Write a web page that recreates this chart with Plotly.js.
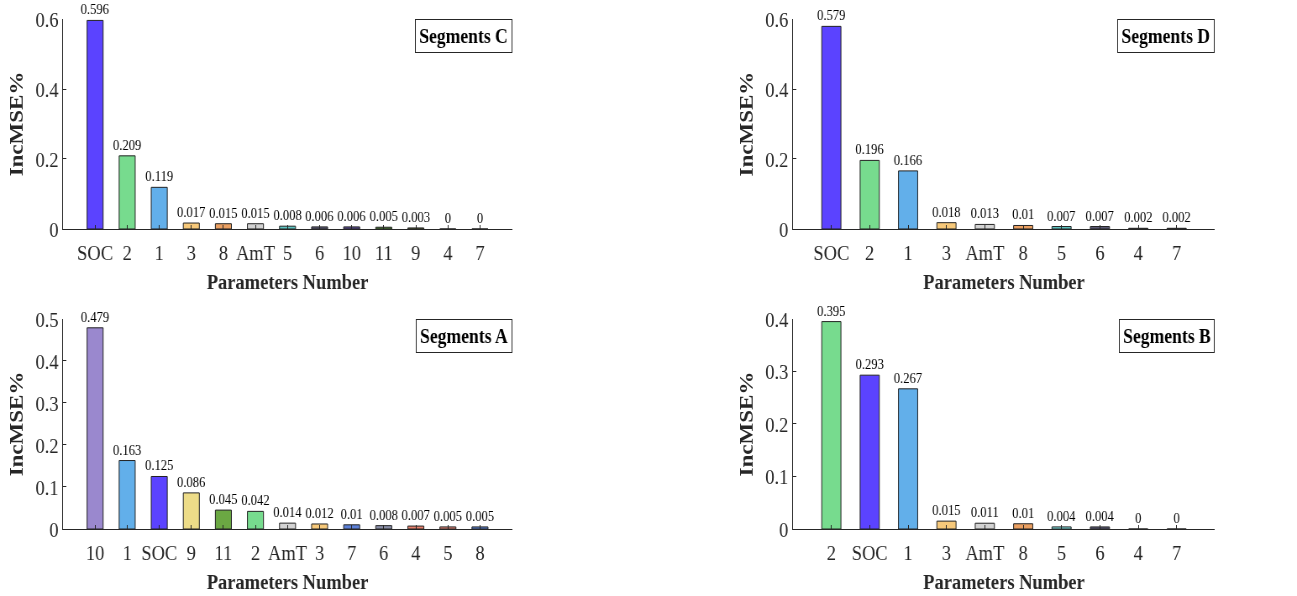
<!DOCTYPE html>
<html><head><meta charset="utf-8">
<script src="https://cdn.plot.ly/plotly-3.0.1.min.js"></script>
<style>
html,body{margin:0;padding:0;overflow:hidden;background:#fff;}
#wrap{width:1297px;height:596px;overflow:hidden;}
#chart{width:1544px;height:596px;transform:scaleX(0.84003);transform-origin:0 0;will-change:transform;-webkit-font-smoothing:antialiased;}
#chart text{-webkit-font-smoothing:antialiased;}
</style></head><body><div id="wrap"><div id="chart"></div></div>
<script>
// Segments C
const catsC = ['SOC','2','1','3','8','AmT','5','6','10','11','9','4','7'];
const valsC = [0.596,0.209,0.119,0.017,0.015,0.015,0.008,0.006,0.006,0.005,0.003,0,0];
const colsC = ['#5B43FF','#77DB8E','#62AFEA','#F7C97A','#EBA062','#D3D3D3','#5CC5C2','#5E5C78','#5C4E96','#4F8A34','#6B7A3A','#444444','#444444'];
// Segments D
const catsD = ['SOC','2','1','3','AmT','8','5','6','4','7'];
const valsD = [0.579,0.196,0.166,0.018,0.013,0.01,0.007,0.007,0.002,0.002];
const colsD = ['#5B43FF','#77DB8E','#62AFEA','#F7C97A','#D3D3D3','#EBA062','#5CC5C2','#5E5C78','#444444','#444444'];
// Segments A
const catsA = ['10','1','SOC','9','11','2','AmT','3','7','6','4','5','8'];
const valsA = [0.479,0.163,0.125,0.086,0.045,0.042,0.014,0.012,0.01,0.008,0.007,0.005,0.005];
const colsA = ['#9A88CE','#62AFEA','#5B43FF','#EDDC88','#6BA843','#77DB8E','#D3D3D3','#F7C97A','#5C80D8','#8A8FA8','#E8806C','#E8887A','#5A80D0'];
// Segments B
const catsB = ['2','SOC','1','3','AmT','8','5','6','4','7'];
const valsB = [0.395,0.293,0.267,0.015,0.011,0.01,0.004,0.004,0,0];
const colsB = ['#77DB8E','#5B43FF','#62AFEA','#F7C97A','#D3D3D3','#EBA062','#7FE0E0','#5E5C78','#444444','#444444'];

const panelNames = ['Segments C','Segments D','Segments A','Segments B'];
const yMax = [0.6, 0.6, 0.5, 0.4];
const yStep = [0.2, 0.2, 0.1, 0.1];

const FONT = 'Liberation Serif, Times New Roman, serif';
const sets = [[catsC,valsC,colsC],[catsD,valsD,colsD],[catsA,valsA,colsA],[catsB,valsB,colsB]];
const axIds = ['', '2', '3', '4'];
const xDom = [[0.0486,0.3948],[0.6114,0.9368],[0.0486,0.3948],[0.6114,0.9368]];
const yDom = [[0.6158,0.9681],[0.6158,0.9681],[0.1124,0.4648],[0.1124,0.4648]];

const traces = [];
const layout = {
  width: 1544, height: 596,
  margin: {l:0, r:0, t:0, b:0},
  paper_bgcolor: '#fff', plot_bgcolor: 'rgba(0,0,0,0)',
  showlegend: false,
  font: {family: FONT, color: '#262626'},
  annotations: []
};

sets.forEach((s, i) => {
  const [cats, vals, cols] = s;
  const id = axIds[i];
  traces.push({
    type: 'bar', x: cats, y: vals,
    xaxis: 'x' + id, yaxis: 'y' + id,
    marker: {color: cols, line: {color: '#222222', width: 1}},
    text: vals.map(v => String(v)),
    textposition: 'outside',
    constraintext: 'none',
    textfont: {family: FONT, size: 15, color: '#000'},
    outsidetextfont: {family: FONT, size: 15, color: '#000'},
    cliponaxis: false,
    width: 0.5,
    hoverinfo: 'x+y'
  });
  layout['xaxis' + id] = {
    domain: xDom[i], anchor: 'y' + id,
    type: 'category', categoryorder: 'array', categoryarray: cats,
    range: [-1, cats.length],
    showline: true, linecolor: '#262626', linewidth: 1,
    ticks: 'inside', ticklen: 4, tickcolor: '#262626',
    ticklabelstandoff: 4,
    showgrid: false, zeroline: false,
    tickfont: {family: FONT, size: 22, color: '#262626'},
    title: {text: '<b>Parameters Number</b>', font: {family: FONT, size: 22, color: '#262626'}, standoff: 9}
  };
  layout['yaxis' + id] = {
    domain: yDom[i], anchor: 'x' + id,
    range: [0, yMax[i]], dtick: yStep[i], tick0: 0,
    showline: true, linecolor: '#262626', linewidth: 1,
    ticks: 'inside', ticklen: 4, tickcolor: '#262626',
    showgrid: false, zeroline: false,
    tickfont: {family: FONT, size: 22, color: '#262626'},
    title: {text: '<b>IncMSE%</b>', font: {family: FONT, size: 23, color: '#262626'}, standoff: 8}
  };
  layout.annotations.push({
    xref: 'x' + id + ' domain', yref: 'y' + id + ' domain',
    x: 1, y: 1, xanchor: 'right', yanchor: 'top',
    text: '<b>' + panelNames[i] + '</b>', showarrow: false,
    font: {family: FONT, size: 21, color: '#000'},
    bordercolor: '#262626', borderwidth: 1, borderpad: 4, bgcolor: '#fff'
  });
});

Plotly.newPlot('chart', traces, layout, {displayModeBar: false, staticPlot: true});
</script></body></html>
